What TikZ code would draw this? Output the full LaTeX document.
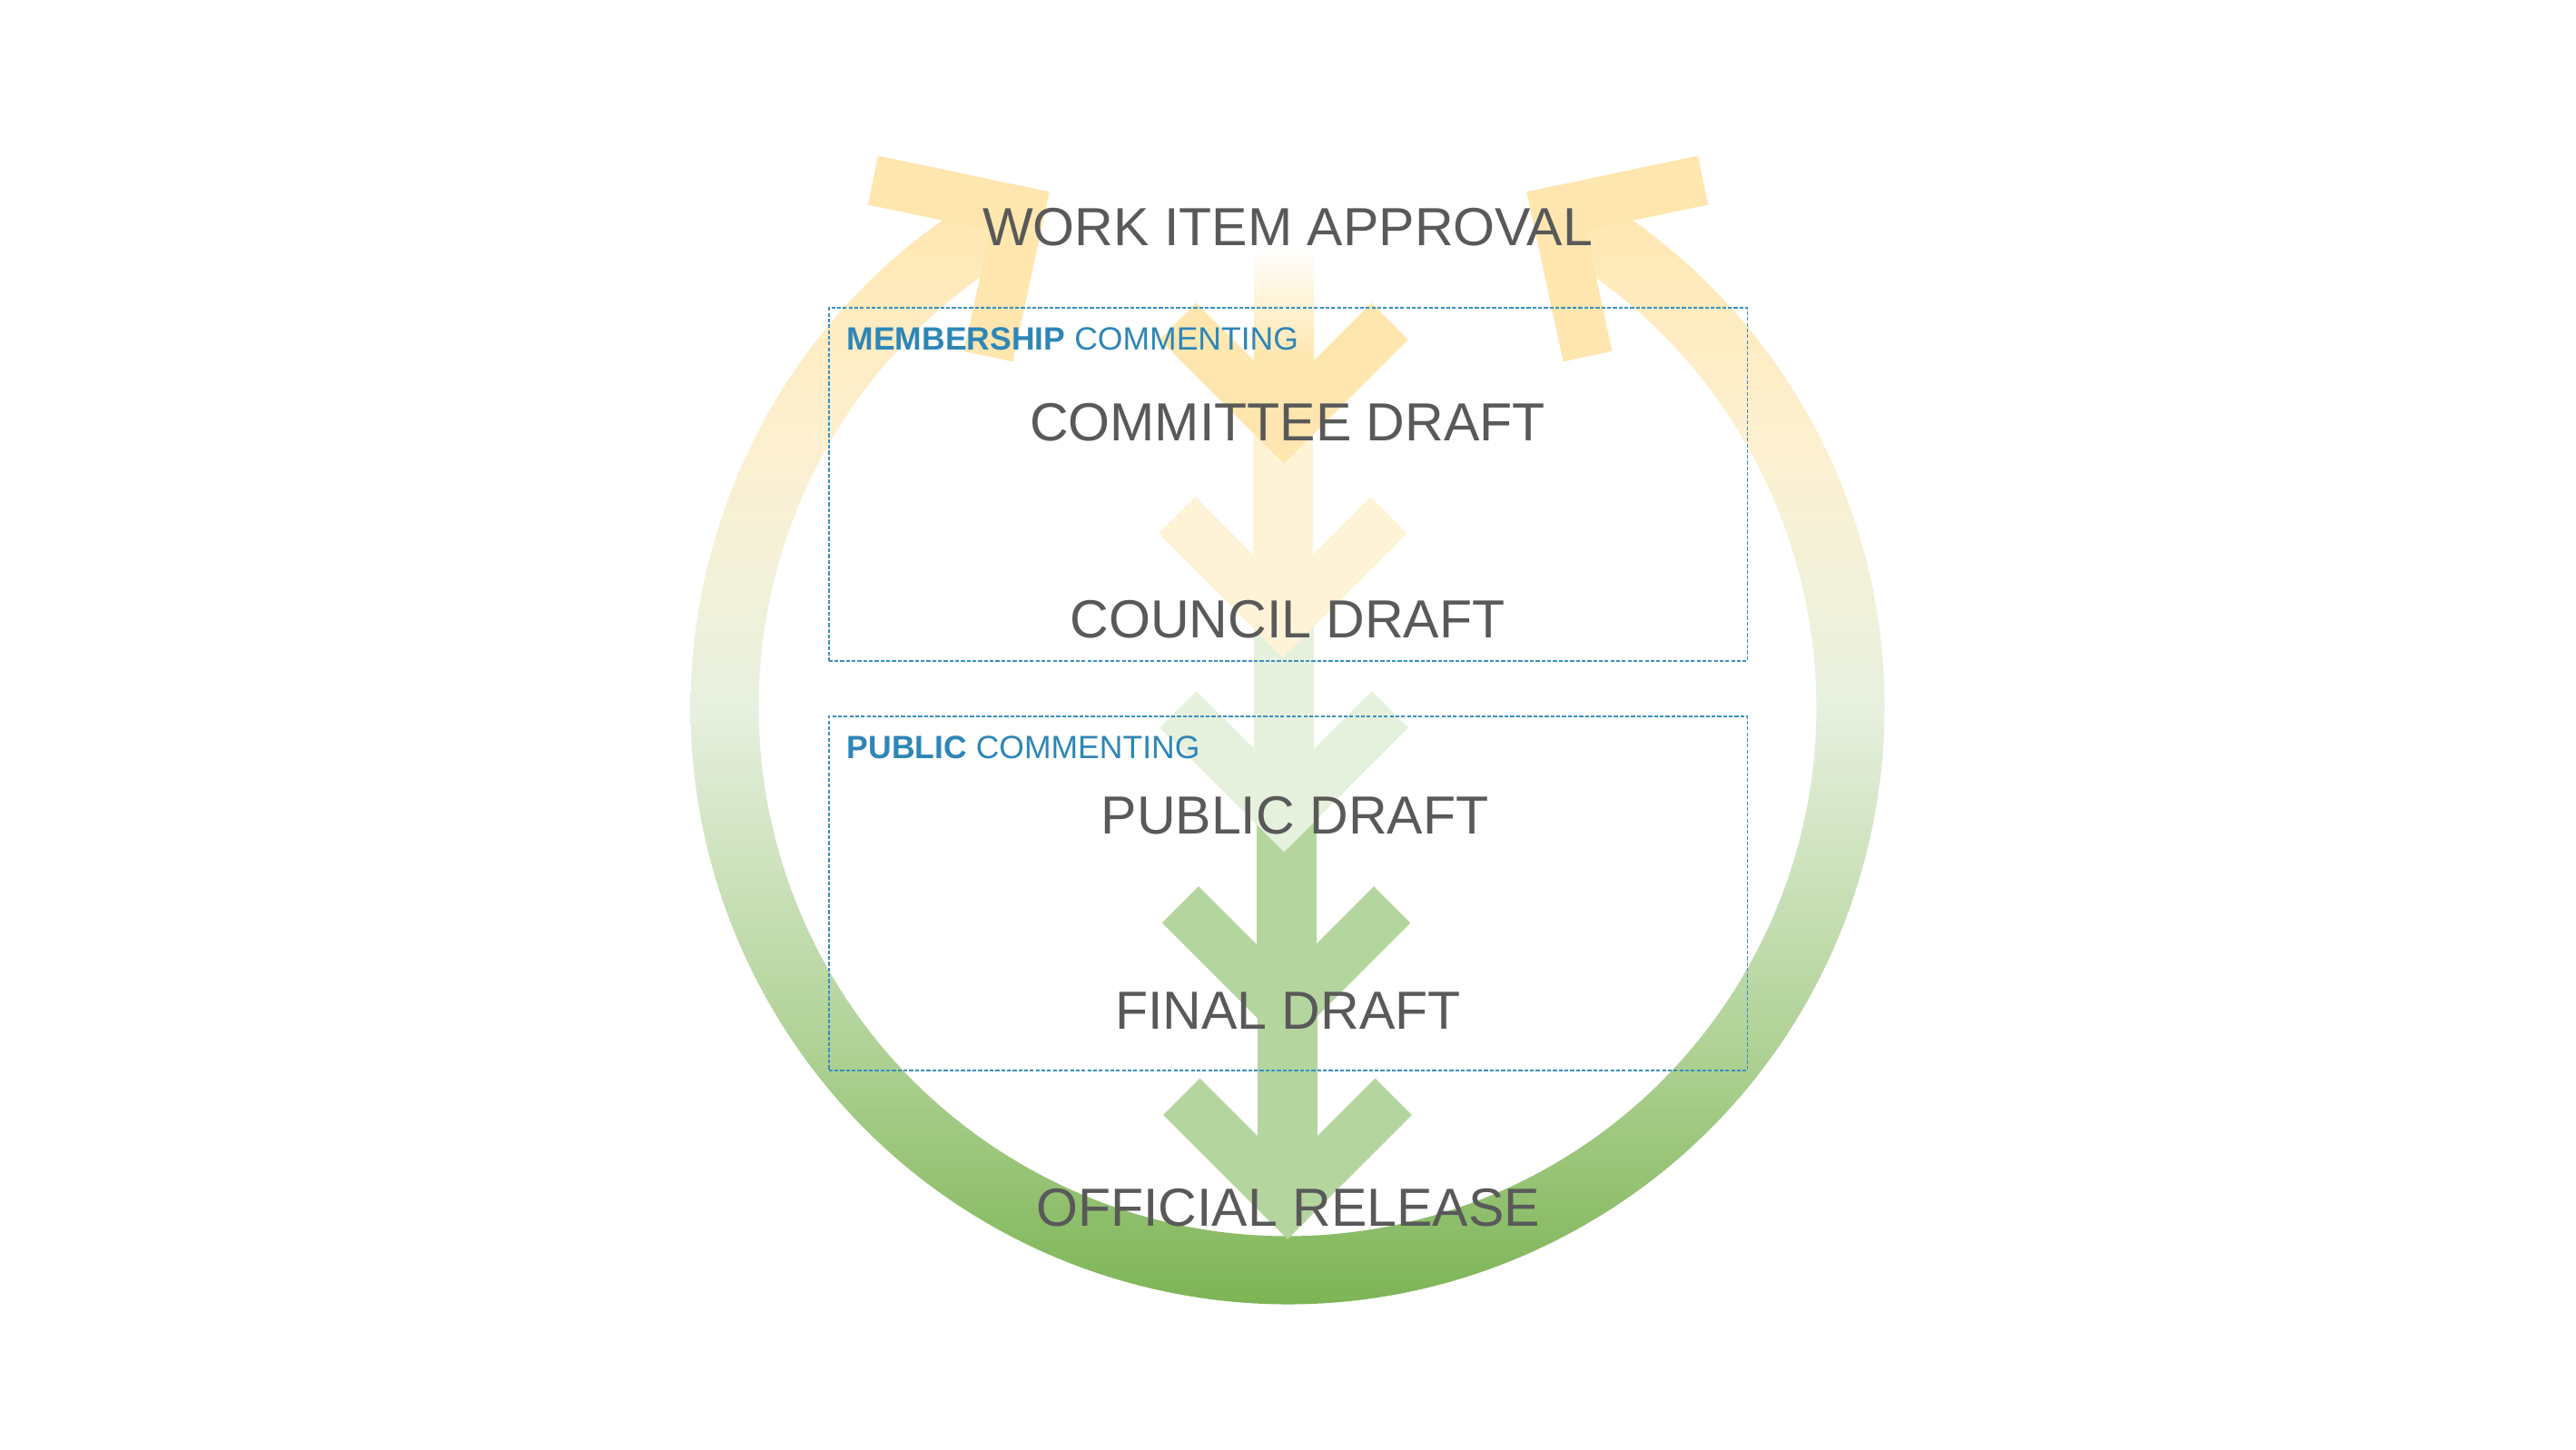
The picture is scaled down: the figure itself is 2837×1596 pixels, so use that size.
\documentclass[tikz,border=0pt]{standalone}
\usepackage{fontspec}
\setmainfont{Liberation Sans}
\definecolor{txtgray}{HTML}{595959}
\definecolor{lblblue}{HTML}{2E86B6}
\definecolor{boxblue}{HTML}{3A8EC0}
\definecolor{yelA}{HTML}{FFE6AE}
\definecolor{yelB}{HTML}{FFF3D7}
\definecolor{grnA}{HTML}{E6F1DD}
\definecolor{grnB}{HTML}{B5D59F}
\definecolor{ringa}{HTML}{7DB455}
\definecolor{ringb}{HTML}{B0D296}
\definecolor{ringc}{HTML}{E7F0DF}
\definecolor{ringd}{HTML}{F1F1DA}
\definecolor{ringe}{HTML}{FDF0D0}
\definecolor{ringf}{HTML}{FFE6AE}
\pgfdeclareverticalshading{ringshade}{100bp}{color(0bp)=(ringa); color(25bp)=(ringa); color(36.6bp)=(ringb); color(51.6bp)=(ringc); color(56.9bp)=(ringd); color(63.7bp)=(ringe); color(75bp)=(ringf); color(100bp)=(ringf)}
\tikzset{
  headstroke/.style={line width=0.55cm, line join=miter, line cap=butt},
  chevstroke/.style={line width=0.57cm, line join=miter, line cap=butt},
  shaftstroke/.style={line width=0.66cm, line cap=butt},
  boxline/.style={draw=boxblue, line width=0.45pt, dash pattern=on 1.2pt off 0.6pt, inner sep=0pt, outer sep=0pt},
  maintext/.style={text=txtgray, inner sep=0pt, anchor=base, font=\fontsize{16.8pt}{20pt}\selectfont},
  labeltext/.style={text=lblblue, inner sep=0pt, anchor=base west, font=\fontsize{10.1pt}{12pt}\selectfont}
}
\begin{document}
\begin{tikzpicture}[x=0.01cm,y=-0.01cm]
\useasboundingbox (0,0) rectangle (2837,1596);
\fill[white] (0,0) rectangle (2837,1596);

% ---- ring with vertical gradient ----
\coordinate (rc) at (1418,779);
\begin{scope}
  \clip ([shift={(119:6.57cm)}]rc) arc[start angle=119, end angle=421, radius=6.57cm]
        -- ([shift={(61:5.82cm)}]rc) arc[start angle=61, end angle=-241, radius=5.82cm] -- cycle;
  \shade[shading=ringshade] (760,204) rectangle (2076,1436);
\end{scope}

% ---- ring arrowheads ----
\coordinate (la1) at (961.5,198.5);
\coordinate (lk)  at (1123,232.5);
\coordinate (la2) at (1088.5,392.5);
\coordinate (ra1) at (1875.5,198.5);
\coordinate (rk)  at (1714,232.5);
\coordinate (ra2) at (1748.5,392.5);
\draw[headstroke, yelA] (la1) -- (lk) -- (la2);
\draw[headstroke, yelA] (ra1) -- (rk) -- (ra2);

% ---- central chain of arrows ----
\coordinate (k1) at (1414,470.5);
\coordinate (k2) at (1413,684);
\coordinate (k3) at (1414.3,898);
\coordinate (k4) at (1416.6,1113);
\coordinate (k5) at (1418,1324.5);
\coordinate (s2) at (1413,470.5);
\coordinate (s3) at (1414.3,684);
\coordinate (s4) at (1416.6,898);
\coordinate (s5) at (1418,1113);

% arrow 5
\draw[shaftstroke, grnB] (s5) -- (k5);
\draw[chevstroke, grnB] ([shift={(-116.7,-116.7)}]k5) -- (k5) -- ([shift={(116.7,-116.7)}]k5);
% arrow 4
\draw[shaftstroke, grnB] (s4) -- (k4);
\draw[chevstroke, grnB] ([shift={(-116.7,-116.7)}]k4) -- (k4) -- ([shift={(116.7,-116.7)}]k4);
% arrow 3
\draw[shaftstroke, grnA] (s3) -- (k3);
\draw[chevstroke, grnA] ([shift={(-116.7,-116.7)}]k3) -- (k3) -- ([shift={(116.7,-116.7)}]k3);
% arrow 2
\draw[shaftstroke, yelB] (s2) -- (k2);
\draw[chevstroke, yelB] ([shift={(-116.7,-116.7)}]k2) -- (k2) -- ([shift={(116.7,-116.7)}]k2);
% arrow 1 (fading shaft)
\shade[top color=white, bottom color=yelA] (1381,272) rectangle (1447,395);
\fill[yelA] (1381,394) rectangle (1447,471);
\draw[chevstroke, yelA] ([shift={(-116.7,-116.7)}]k1) -- (k1) -- ([shift={(116.7,-116.7)}]k1);

% ---- commenting boxes ----
\node[boxline, minimum width=10.11cm, minimum height=3.89cm] (membox) at (1418.5,533.5) {};
\node[boxline, minimum width=10.11cm, minimum height=3.90cm] (pubbox) at (1418.5,984) {};
\node[labeltext] (memlbl) at (932,385) {\textbf{MEMBERSHIP} COMMENTING};
\node[labeltext] (publbl) at (932,835) {\textbf{PUBLIC} COMMENTING};

% ---- stage texts ----
\node[maintext] (wia) at (1418,270) {WORK ITEM APPROVAL};
\node[maintext] (cmd) at (1418,485) {COMMITTEE DRAFT};
\node[maintext] (cod) at (1418,702) {COUNCIL DRAFT};
\node[maintext] (pud) at (1426,918) {PUBLIC DRAFT};
\node[maintext] (fid) at (1418.5,1133) {FINAL DRAFT};
\node[maintext] (ofr) at (1418.5,1350) {OFFICIAL RELEASE};
\end{tikzpicture}
\end{document}
